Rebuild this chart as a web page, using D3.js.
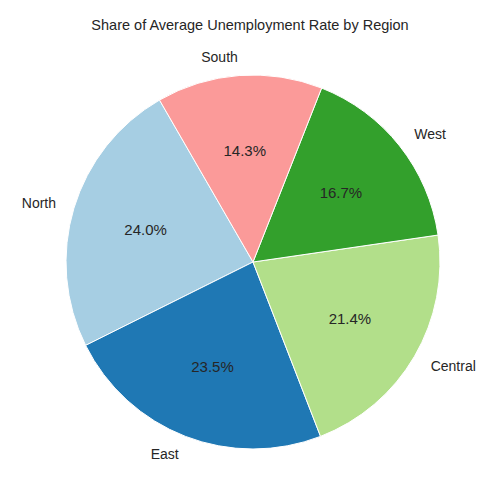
<!DOCTYPE html>
<html>
<head>
<meta charset="utf-8">
<script src="https://cdn.jsdelivr.net/npm/d3@7"></script>
<style>
  body { margin: 0; background: #fff; }
  text { font-family: "Liberation Sans", Arial, sans-serif; fill: #262626; }
</style>
</head>
<body>
<svg id="chart" width="500" height="500"></svg>
<script>
const regions = ["North", "East", "Central", "West", "South"];
const shares = [24.0, 23.5, 21.4, 16.7, 14.3];
const colors = ["#a6cee3", "#1f78b4", "#b2df8a", "#33a02c", "#fb9a99"];

const svg = d3.select("#chart");
const cx = 253, cy = 262, radius = 187;

svg.append("text")
    .attr("x", 250).attr("y", 30)
    .attr("text-anchor", "middle")
    .style("font-size", "14.5px")
    .text("Share of Average Unemployment Rate by Region");

// matplotlib startangle=120, counterclockwise
const start = (90 - 120) * Math.PI / 180;
const pie = d3.pie().sort(null).startAngle(start).endAngle(start - 2 * Math.PI);
const arcs = pie(shares);

const g = svg.append("g").attr("transform", `translate(${cx},${cy})`);
const arc = d3.arc().innerRadius(0).outerRadius(radius);

g.selectAll("path")
    .data(arcs)
    .enter()
    .append("path")
    .attr("d", arc)
    .attr("fill", (d, i) => colors[i])
    .attr("stroke", "#fff")
    .attr("stroke-width", 1);

function pos(d, r) {
    let a = (d.startAngle + d.endAngle) / 2;
    return [r * Math.sin(a), -r * Math.cos(a)];
}

g.selectAll("text.pct")
    .data(arcs)
    .enter()
    .append("text")
    .attr("class", "pct")
    .attr("x", d => pos(d, radius * 0.6)[0])
    .attr("y", d => pos(d, radius * 0.6)[1])
    .attr("text-anchor", "middle")
    .attr("dominant-baseline", "central")
    .style("font-size", "15px")
    .text(d => d.data.toFixed(1) + "%");

g.selectAll("text.lbl")
    .data(arcs)
    .enter()
    .append("text")
    .attr("class", "lbl")
    .attr("x", d => pos(d, radius * 1.1)[0])
    .attr("y", d => pos(d, radius * 1.1)[1])
    .attr("text-anchor", d => pos(d, 1)[0] > 0 ? "start" : "end")
    .attr("dominant-baseline", "central")
    .style("font-size", "14px")
    .text((d, i) => regions[i]);
</script>
</body>
</html>
